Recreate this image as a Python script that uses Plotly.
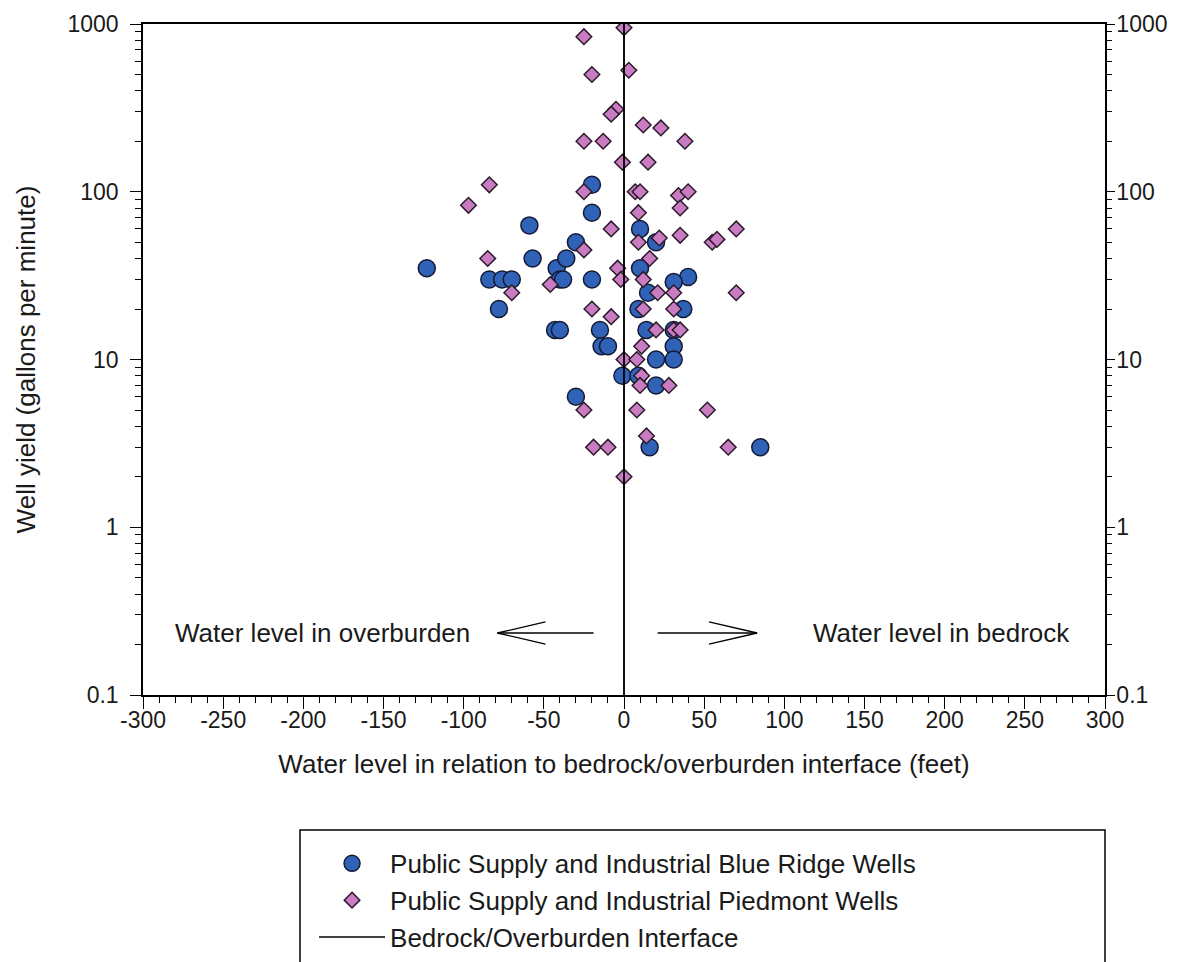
import plotly.graph_objects as go

# Water level relative to the bedrock/overburden interface (feet) and well yield (gpm)
blue_ridge_x = [-123, -84, -76, -70, -78, -59, -57, -42, -40, -38, -36, -30, -43, -40,
                -30, -20, -20, -20, -15, -14, -10, -1, 10, 20, 10, 40, 31, 15, 9, 37,
                14, 31, 31, 20, 31, 20, 9, 16, 85]
blue_ridge_y = [35, 30, 30, 30, 20, 63, 40, 35, 30, 30, 40, 50, 15, 15,
                6, 110, 75, 30, 15, 12, 12, 8, 60, 50, 35, 31, 29, 25, 20, 20,
                15, 15, 12, 10, 10, 7, 8, 3, 3]

piedmont_x = [0, -25, 3, -20, -5, -8, 12, 23, -25, -13, 38, -1, 15, -84, -25, 7, 10,
              34, 40, -97, 9, 35, -8, 9, 22, 35, 55, 58, 70, -85, -25, 16, -4, -2,
              -46, -70, 12, 21, 31, 70, -20, -8, 12, 31, 20, 31, 35, 11, 0, 8, 11,
              10, 28, -25, 8, 52, 14, -19, -10, 65, 0]
piedmont_y = [950, 840, 530, 500, 310, 290, 250, 240, 200, 200, 200, 150, 150, 110, 100,
              100, 100, 95, 100, 83, 75, 80, 60, 50, 53, 55, 50, 52, 60, 40, 45, 40,
              35, 30, 28, 25, 30, 25, 25, 25, 20, 18, 20, 20, 15, 15, 15, 12, 10, 10,
              8, 7, 7, 5, 5, 5, 3.5, 3, 3, 3, 2]

interface_x = [0, 0]
interface_y = [0.1, 1000]

x_ticks = [-300, -250, -200, -150, -100, -50, 0, 50, 100, 150, 200, 250, 300]
x_tick_text = ["-300", "-250", "-200", "-150", "-100", "-50", "0",
               "50", "100", "150", "200", "250", "300"]
y_ticks = [0.1, 1, 10, 100, 1000]
y_tick_text = ["0.1", "1", "10", "100", "1000"]

FONT = "Arial, Liberation Sans, sans-serif"
INK = "#1a1a1a"

fig = go.Figure()

fig.add_trace(go.Scatter(
    x=blue_ridge_x, y=blue_ridge_y, mode="markers",
    marker=dict(symbol="circle", size=17, color="#3062b8",
                line=dict(color="#141a33", width=1.5)),
    name="Public Supply and Industrial Blue Ridge Wells",
))
fig.add_trace(go.Scatter(
    x=piedmont_x, y=piedmont_y, mode="markers",
    marker=dict(symbol="diamond", size=12, color="#c97cc2",
                line=dict(color="#2a1a2a", width=1.5)),
    name="Public Supply and Industrial Piedmont Wells",
))
fig.add_trace(go.Scatter(
    x=interface_x, y=interface_y, mode="lines",
    line=dict(color="black", width=1.5),
    name="Bedrock/Overburden Interface",
))
# Same interface line bound to the right-hand axis so that axis is rendered
fig.add_trace(go.Scatter(
    x=interface_x, y=interface_y, mode="lines", yaxis="y2",
    line=dict(color="black", width=1.5), showlegend=False, hoverinfo="skip",
))

axis_common = dict(showgrid=False, zeroline=False, showline=True,
                   linecolor="black", linewidth=1.5, automargin=False,
                   tickfont=dict(family=FONT, size=23, color=INK))

fig.update_xaxes(
    range=[-300, 300], tickvals=x_ticks, ticktext=x_tick_text,
    ticks="outside", ticklen=12, tickwidth=1.2, tickcolor="black", mirror=True,
    ticklabelstandoff=-8,
    minor=dict(ticks="outside", ticklen=6, dtick=10, tickcolor="black", tickwidth=1.2),
    title=dict(text="Water level in relation to bedrock/overburden interface (feet)",
               font=dict(family=FONT, size=26, color=INK), standoff=22),
    **axis_common,
)
fig.update_yaxes(
    type="log", range=[-1, 3], tickvals=y_ticks, ticktext=y_tick_text,
    ticks="outside", ticklen=11, tickwidth=1.2, tickcolor="black",
    ticklabelstandoff=7,
    minor=dict(ticks="outside", ticklen=6, dtick="D1", tickcolor="black", tickwidth=1.2),
    title=dict(text="Well yield (gallons per minute)",
               font=dict(family=FONT, size=26, color=INK), standoff=24),
    **axis_common,
)

fig.update_layout(
    yaxis2=dict(
        overlaying="y", side="right", anchor="x",
        type="log", range=[-1, 3], tickvals=y_ticks, ticktext=y_tick_text,
        ticks="outside", ticklen=8, tickwidth=1.2, tickcolor="black",
        ticklabelstandoff=-3,
        minor=dict(ticks="outside", ticklen=5, dtick="D1", tickcolor="black", tickwidth=1.2),
        **axis_common,
    ),
)

# Direction arrows with open heads
arrow_y = 0.0924
arrow_half = 0.0165
arrows = [(-19, -79, -49), (21, 83, 53)]
for start, tip, wing in arrows:
    fig.add_shape(type="line", xref="x", yref="paper",
                  x0=start, x1=tip, y0=arrow_y, y1=arrow_y,
                  line=dict(color="black", width=1.3))
    fig.add_shape(type="path", xref="x", yref="paper",
                  path=f"M {wing},{arrow_y + arrow_half} L {tip},{arrow_y} L {wing},{arrow_y - arrow_half}",
                  line=dict(color="black", width=1.3))

fig.add_annotation(x=-188, y=arrow_y, xref="x", yref="paper",
                   text="Water level in overburden", showarrow=False,
                   yanchor="middle", font=dict(family=FONT, size=26, color=INK))
fig.add_annotation(x=198, y=arrow_y, xref="x", yref="paper",
                   text="Water level in bedrock", showarrow=False,
                   yanchor="middle", font=dict(family=FONT, size=26, color=INK))

# Legend frame (extends past the bottom edge)
fig.add_shape(type="rect", xref="paper", yref="paper",
              x0=0.1632, x1=1.0, y0=-0.2012, y1=-0.45,
              line=dict(color="black", width=1.5), fillcolor="rgba(0,0,0,0)")

fig.update_layout(
    width=1191, height=962,
    margin=dict(l=143, r=86, t=24, b=267, autoexpand=False),
    paper_bgcolor="white", plot_bgcolor="white",
    showlegend=True,
    legend=dict(
        x=0.1778, y=-0.216, xanchor="left", yanchor="top",
        font=dict(family=FONT, size=26, color=INK),
        traceorder="normal", itemwidth=66,
        bgcolor="rgba(0,0,0,0)", borderwidth=0,
    ),
)

fig.write_html("out.html")
